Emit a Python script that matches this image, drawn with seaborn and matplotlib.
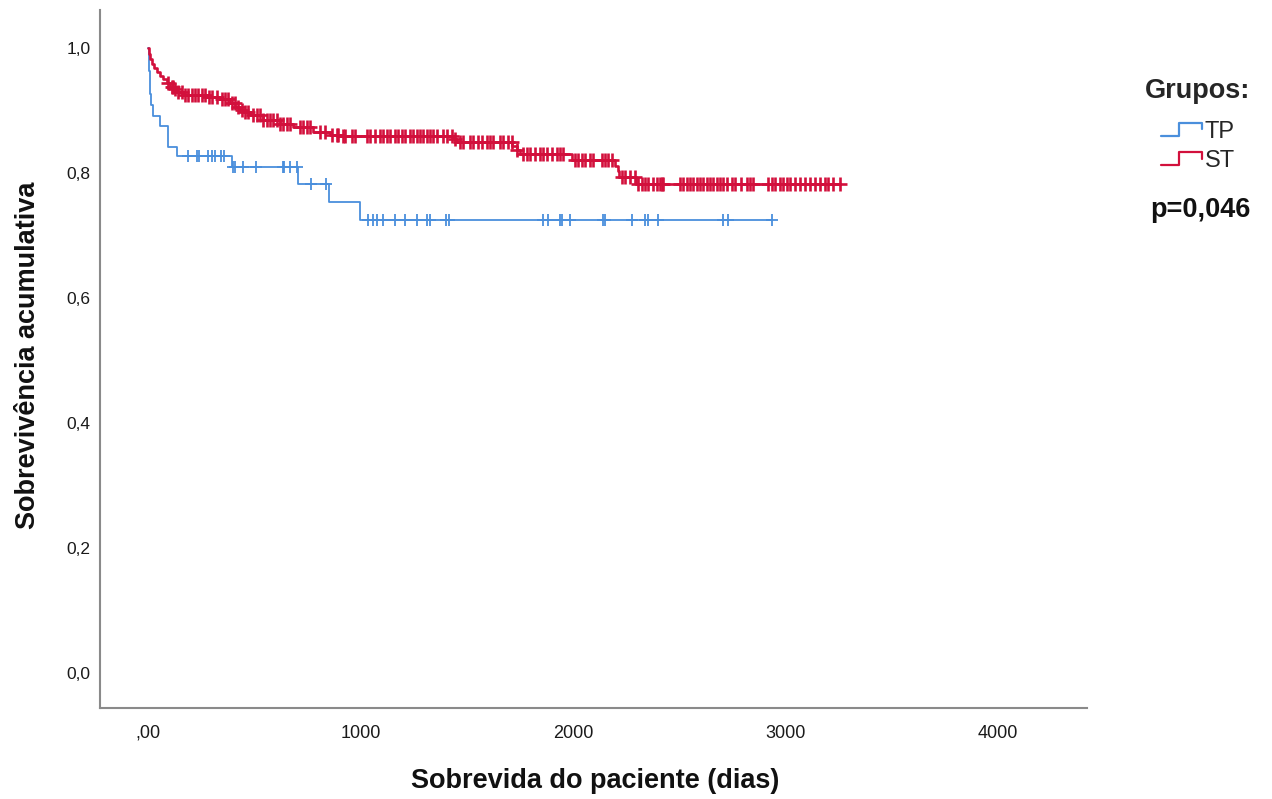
import numpy as np
import pandas as pd
import matplotlib
matplotlib.use("Agg")
import matplotlib.pyplot as plt
from matplotlib.lines import Line2D
from matplotlib.legend_handler import HandlerBase
import seaborn as sns

# ---------------- data ----------------
groups = ["TP", "ST"]

# TP: Kaplan-Meier step knots (time in days, survival after event)
tp_event_t = [0, 3, 5, 8, 10, 14, 22, 56, 95, 135, 394, 707, 853, 998]
tp_event_s = [1.0, 0.982, 0.964, 0.945, 0.927, 0.909, 0.891, 0.876, 0.842,
              0.827, 0.809, 0.782, 0.753, 0.725]
tp_censor_t = [188, 231, 240, 282, 301, 315, 344, 358,
               401, 409, 449, 507, 634, 640, 668, 700,
               766, 838,
               1037, 1057, 1076, 1104, 1162, 1209, 1264, 1311, 1327, 1402, 1418,
               1860, 1884, 1939, 1947, 1986, 2143, 2151, 2276, 2339, 2351, 2401,
               2707, 2731, 2935]

# ST: Kaplan-Meier step knots
st_event_t = [0, 3, 8, 17, 28, 41, 55, 72, 88, 104, 120, 135, 166, 276, 339,
              386, 410, 433, 456, 480, 541, 621, 682, 776, 856, 904,
              1440, 1455, 1715, 1735, 1750, 1994, 2200, 2210, 2216, 2296]
st_event_s = [1.0, 0.99, 0.982, 0.975, 0.968, 0.962, 0.956, 0.951, 0.944,
              0.938, 0.934, 0.930, 0.925, 0.922, 0.918, 0.912, 0.906, 0.901,
              0.897, 0.893, 0.885, 0.879, 0.873, 0.866, 0.861, 0.859,
              0.855, 0.850, 0.843, 0.837, 0.831, 0.821, 0.812, 0.803, 0.794,
              0.782]
st_censor_t = [96, 111, 118, 127, 142, 158, 174, 190, 205, 221, 236, 252, 268,
               286, 300, 323, 346, 362, 378, 393, 409, 425, 440, 456, 472, 495,
               511, 527, 543, 558, 574, 590, 605, 621, 636, 652, 668, 715, 731,
               746, 762, 809, 833, 864, 888,
               896, 919, 927, 959, 974, 1029, 1045, 1068, 1092, 1107, 1123,
               1139, 1162, 1178, 1193, 1209, 1233, 1248, 1264, 1280, 1296, 1311,
               1327, 1342, 1358, 1390, 1405, 1429, 1444, 1468, 1484, 1515, 1531,
               1554, 1570, 1594, 1609, 1625, 1656, 1672, 1696, 1711, 1735,
               1766, 1782, 1798, 1821, 1845, 1860, 1876, 1900, 1923, 1939, 1954,
               2009, 2025, 2041, 2056, 2080, 2096, 2135, 2151, 2166, 2182, 2229,
               2244, 2268, 2292, 2308, 2323, 2339, 2355, 2378, 2394, 2409, 2417,
               2425, 2504, 2519, 2535, 2551, 2566, 2582, 2598, 2613, 2629, 2645,
               2660, 2676, 2692, 2707, 2723, 2747, 2762, 2793, 2817, 2833, 2848,
               2919, 2935, 2951, 2974, 2990, 3005, 3021, 3045, 3068, 3092, 3115,
               3139, 3162, 3186, 3202, 3225, 3256]

x_ticks = [0, 1000, 2000, 3000, 4000]
x_tick_labels = [",00", "1000", "2000", "3000", "4000"]
y_ticks = [0.0, 0.2, 0.4, 0.6, 0.8, 1.0]
y_tick_labels = ["0,0", "0,2", "0,4", "0,6", "0,8", "1,0"]
p_text = "p=0,046"

colors = {"TP": "#4a8fdc", "ST": "#d2103c"}

# ---------------- build tidy frames ----------------
def curve_frame(name, et, es, ct):
    et = np.asarray(et, float)
    es = np.asarray(es, float)
    t_end = max(et.max(), max(ct))
    t = np.append(et, t_end)
    s = np.append(es, es[-1])
    line = pd.DataFrame({"t": t, "S": s, "grupo": name})
    idx = np.searchsorted(et, np.asarray(ct, float), side="right") - 1
    cens = pd.DataFrame({"t": ct, "S": es[idx], "grupo": name})
    return line, cens

tp_line, tp_cens = curve_frame("TP", tp_event_t, tp_event_s, tp_censor_t)
st_line, st_cens = curve_frame("ST", st_event_t, st_event_s, st_censor_t)

# ---------------- plot ----------------
sns.set_style("white")
plt.rcParams["font.family"] = ["Liberation Sans", "DejaVu Sans"]

fig = plt.figure(figsize=(12.72, 7.99), dpi=100)
ax = fig.add_axes([100 / 1272, 1 - 708 / 799, 987 / 1272, 698 / 799])

lw = {"TP": 1.3, "ST": 1.9}
msize = {"TP": 70, "ST": 95}
for line, cens, name in [(tp_line, tp_cens, "TP"), (st_line, st_cens, "ST")]:
    sns.lineplot(data=line, x="t", y="S", ax=ax, color=colors[name],
                 drawstyle="steps-post", estimator=None, sort=True,
                 linewidth=lw[name], legend=False)
    sns.scatterplot(data=cens, x="t", y="S", ax=ax, marker="+",
                    color=colors[name], s=msize[name], linewidth=lw[name],
                    legend=False, zorder=3)

ax.set_xlim(-226, 4419)
ax.set_ylim(-0.056, 1.061)
ax.set_xticks(x_ticks)
ax.set_xticklabels(x_tick_labels)
ax.set_yticks(y_ticks)
ax.set_yticklabels(y_tick_labels)
ax.tick_params(axis="both", length=0, labelsize=12.5, colors="#1a1a1a")
ax.tick_params(axis="x", pad=12, labelsize=13)
ax.tick_params(axis="y", pad=7)

for side in ["top", "right"]:
    ax.spines[side].set_visible(False)
for side in ["left", "bottom"]:
    ax.spines[side].set_color("#8a8a8a")
    ax.spines[side].set_linewidth(1.5)

ax.set_xlabel("Sobrevida do paciente (dias)", fontsize=19.5,
              fontweight="bold", color="#111111")
ax.set_ylabel("Sobrevivência acumulativa", fontsize=19.5,
              fontweight="bold", color="#111111")
ax.xaxis.set_label_coords((595 - 100) / 987, (708 - 768) / 698)
ax.yaxis.set_label_coords((15 - 100) / 987, (708 - 355) / 698)
ax.yaxis.label.set_va("top")


class StepHandler(HandlerBase):
    def create_artists(self, legend, orig_handle, xdescent, ydescent,
                       width, height, fontsize, trans):
        xs = np.array([0, 0.45, 0.45, 1.0, 1.0]) * width - xdescent
        ys = np.array([0.05, 0.05, 0.95, 0.95, 0.5]) * height - ydescent
        ln = Line2D(xs, ys, color=orig_handle.get_color(), linewidth=1.6)
        ln.set_transform(trans)
        return [ln]


handles = [Line2D([], [], color=colors[g]) for g in groups]
leg = fig.legend(handles, groups, loc="upper left",
                 bbox_to_anchor=(1145 / 1272, 1 - 78 / 799),
                 frameon=False, fontsize=17, title="Grupos:",
                 title_fontproperties={"weight": "bold", "size": 19.5},
                 handler_map={Line2D: StepHandler()},
                 handlelength=1.75, handleheight=0.55, handletextpad=0.1,
                 labelspacing=0.32, borderaxespad=0, borderpad=0)
leg._legend_box.sep = 12

fig.text(1200 / 1272, 1 - 210 / 799, p_text, fontsize=19.5,
         fontweight="bold", ha="center", va="center", color="#111111")

fig.savefig("out.png", dpi=100)
